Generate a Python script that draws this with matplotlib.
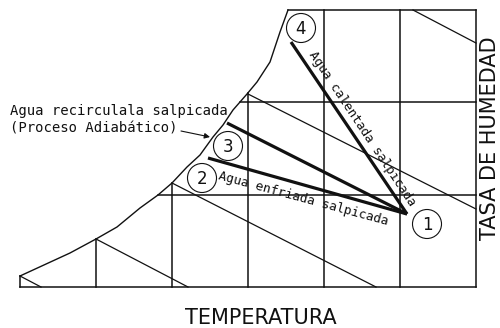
#!/usr/bin/env python3
"""Carta psicrometrica esquematica: procesos de agua salpicada."""
import matplotlib

matplotlib.use("Agg")
import matplotlib.pyplot as plt
import numpy as np
from matplotlib.patches import Circle

# --- datos del esquema (coordenadas del dibujo, y crece hacia abajo) ---
TEMP_GRID = [20, 96, 172, 248, 324, 400, 476]      # lineas de temperatura
HUM_GRID = [287, 195, 102, 10]                     # lineas de humedad
SAT_X = [20, 70, 96, 117, 140, 158, 172, 187, 200, 213, 223, 233, 247, 257, 270, 280, 288]
SAT_Y = [276, 253, 239, 227, 208, 195, 183, 167, 155, 137, 125, 110, 94, 82, 62, 32, 10]
ENTH_X0 = [20, 96, 172, 248, 413]                  # lineas de entalpia (inicio)
ENTH_Y0 = [276, 239, 183, 94, 10]
ENTH_X1 = [41, 188, 376, 476, 476]                 # (fin)
ENTH_Y1 = [287, 287, 287, 209, 43]

STATE_IDS = ["1", "2", "3", "4"]
STATE_X = [407, 208, 227, 291]                     # extremos de las lineas de proceso
STATE_Y = [214, 158, 123, 42]
LABEL_X = [427, 202, 228, 301]                     # circulos numerados
LABEL_Y = [224, 178, 146, 28]

MONO = "DejaVu Sans Mono"
INK = "#111111"


def main() -> None:
    fig = plt.figure(figsize=(5.0, 3.28), dpi=100)
    ax = fig.add_axes([0, 0, 1, 1])
    ax.set_xlim(0, 500)
    ax.set_ylim(328, 0)
    ax.axis("off")

    # curva de saturacion
    ax.plot(SAT_X, SAT_Y, color=INK, lw=1.0)

    # verticales: desde la base hasta la curva o el borde superior
    for x in TEMP_GRID:
        top = np.interp(x, SAT_X, SAT_Y) if x <= SAT_X[-1] else HUM_GRID[-1]
        ax.plot([x, x], [HUM_GRID[0], top], color=INK, lw=1.1)

    # horizontales: desde la curva hasta el borde derecho
    for y in HUM_GRID:
        left = np.interp(y, SAT_Y[::-1], SAT_X[::-1])
        ax.plot([left, TEMP_GRID[-1]], [y, y], color=INK, lw=1.1)

    for x0, y0, x1, y1 in zip(ENTH_X0, ENTH_Y0, ENTH_X1, ENTH_Y1):
        ax.plot([x0, x1], [y0, y1], color=INK, lw=0.9)

    # procesos desde el estado 1
    for i in range(1, 4):
        ax.plot([STATE_X[0], STATE_X[i]], [STATE_Y[0], STATE_Y[i]],
                color=INK, lw=2.3, solid_capstyle="butt")

    for sid, cx, cy in zip(STATE_IDS, LABEL_X, LABEL_Y):
        ax.add_patch(Circle((cx, cy), 14.5, fill=False, ec=INK, lw=0.8))
        ax.text(cx, cy + 0.5, sid, ha="center", va="center", fontsize=12,
                color=INK)

    ax.text(303, 199, "Agua enfriada salpicada", family=MONO, fontsize=9.2,
            rotation=-15.2, rotation_mode="anchor", ha="center", va="center",
            color=INK)
    ax.text(362, 129, "Agua calentada salpicada", family=MONO, fontsize=9.2,
            rotation=-56.4, rotation_mode="anchor", ha="center", va="center",
            color=INK)

    ax.text(10, 115, "Agua recirculala salpicada", family=MONO, fontsize=10,
            va="baseline", color=INK)
    ax.text(10, 133, "(Proceso Adiabático)", family=MONO, fontsize=10,
            va="baseline", color=INK)
    ax.annotate("", xy=(210, 137), xytext=(181, 131),
                arrowprops=dict(arrowstyle="-|>", color=INK, lw=0.8,
                                mutation_scale=8, shrinkA=0, shrinkB=0))

    ax.text(261, 324, "TEMPERATURA", fontsize=15, ha="center", va="baseline",
            color=INK)
    ax.text(490, 138, "TASA DE HUMEDAD", fontsize=15, rotation=90,
            ha="center", va="center", color=INK)

    fig.savefig("out.png", dpi=100, facecolor="white")
    plt.close(fig)


if __name__ == "__main__":
    main()
